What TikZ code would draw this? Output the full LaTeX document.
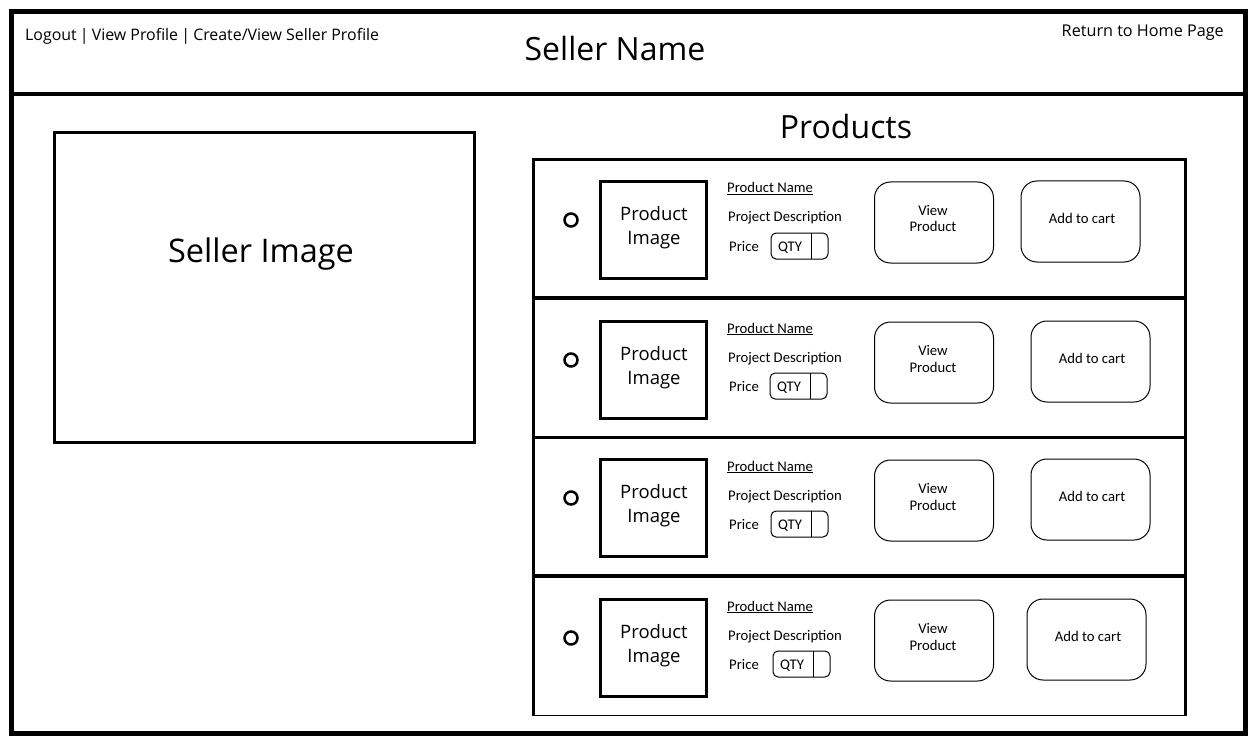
\documentclass[tikz,border=0pt]{standalone}
\usepackage{fontspec}
\setmainfont{Open Sans}
\newfontfamily\rowfont{Carlito}
\begin{document}
\begin{tikzpicture}[x=1pt,y=-1pt,
  txt/.style={inner sep=0pt},
  navfont/.style={font=\fontsize{16.2}{20}\selectfont},
  leftnav/.style={font=\fontsize{15.9}{20}\selectfont},
  bigfont/.style={font=\fontsize{32}{38}\selectfont},
  imgfont/.style={font=\fontsize{18.5}{22}\selectfont},
  rowtxt/.style={inner sep=0pt,font=\rowfont\fontsize{14.7}{17}\selectfont},
  thinbox/.style={draw=black,line width=1pt,rounded corners=16pt},
  qtybox/.style={draw=black,line width=1pt,rounded corners=5pt},
  heavy/.style={draw=black,line width=5pt},
  medium/.style={draw=black,line width=3pt},
  radio/.style={draw=black,circle,line width=2.5pt,minimum size=13pt,inner sep=0pt}]
\useasboundingbox (0,0) rectangle (1255,746);
\fill[white] (0,0) rectangle (1255,746);
% outer frame and header
\draw[heavy] (11.5,11.5) rectangle (1245.5,733.5);
\draw[draw=black,line width=4.5pt] (11.5,94) -- (1245.5,94);
\node[txt,leftnav,anchor=base west] (nav) at (25,41) {Logout\hspace{0.2em}|\hspace{0.2em}View Profile\hspace{0.2em}|\hspace{0.2em}Create/View Seller Profile};
\node[txt,navfont,anchor=base east] (home) at (1224,37) {Return to Home Page};
\node[txt,bigfont,anchor=base] (sname) at (615,61) {Seller Name};
% seller image
\draw[medium] (54.5,132.5) rectangle (474.5,442.5);
\node[txt,font=\fontsize{32.5}{38}\selectfont,anchor=base] (simg) at (261,262) {Seller Image};
% products
\node[txt,bigfont,anchor=base] (prod) at (846,139) {Products};
\draw[medium] (533.5,716) -- (533.5,160) -- (1185.5,160) -- (1185.5,716);
\draw[draw=black,line width=1pt] (533.5,715.5) -- (1185.5,715.5);
\foreach \y in {298,437.5,576} {
  \draw[draw=black,line width=3.5pt] (533.5,\y) -- (1185.5,\y);
}
\foreach \c/\q/\a [count=\i] in {220/771/1021, 360/770/1031, 498/771/1031, 638/773/1027} {
  \node[radio] (rad\i) at (571,\c) {};
  \draw[medium] (600.5,\c-38.5) rectangle (706.5,\c+58.5);
  \node[txt,imgfont,anchor=base] (pa\i) at (654,\c) {Product};
  \node[txt,imgfont,anchor=base] (pb\i) at (654,\c+24) {Image};
  \node[rowtxt,anchor=base west] (pn\i) at (727,\c-27) {\underline{Product Name}};
  \node[rowtxt,anchor=base west] (pd\i) at (728,\c+2) {Project Description};
  \node[rowtxt,anchor=base west] (pp\i) at (729,\c+31) {Price};
  \draw[qtybox] (\q,\c+13) rectangle (\q+57,\c+39);
  \draw[draw=black,line width=1pt] (\q+40,\c+13) -- (\q+40,\c+39);
  \node[rowtxt,anchor=base] (qty\i) at (\q+19,\c+31) {QTY};
  \draw[thinbox] (874.5,\c-38) rectangle (993.5,\c+43);
  \node[rowtxt,anchor=base] (va\i) at (933,\c-5) {View};
  \node[rowtxt,anchor=base] (vb\i) at (933,\c+12) {Product};
  \draw[thinbox] (\a,\c-39) rectangle (\a+119,\c+42);
  \node[rowtxt,anchor=base] (ac\i) at (\a+61,\c+3) {Add to cart};
}
\end{tikzpicture}
\end{document}
